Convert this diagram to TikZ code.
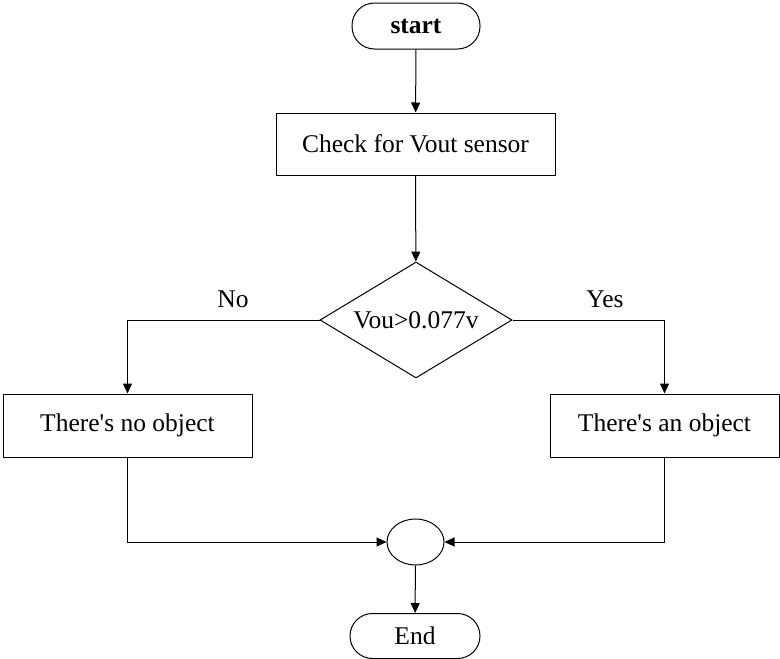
\documentclass[tikz,border=0pt]{standalone}
\usepackage{fontspec}
\setmainfont{Liberation Serif}
\usetikzlibrary{shapes.geometric,arrows.meta}
\begin{document}
\begin{tikzpicture}[x=1pt,y=-1pt,
  every node/.style={font=\fontsize{25.5}{30}\selectfont},
  term/.style={draw,rounded corners=22.5pt,inner sep=0pt},
  procbox/.style={draw,rectangle,inner sep=0pt},
  decide/.style={draw,diamond,inner sep=0pt,aspect=1.655},
  joinpt/.style={draw,ellipse,inner sep=0pt},
  lbl/.style={inner sep=0pt},
  conn/.style={line width=1pt,-{Triangle[length=10pt,width=9pt]}},
  line width=1pt]
\useasboundingbox (0,0) rectangle (780,659);
\node[term,minimum width=128pt,minimum height=46pt] (start) at (416,26) {\textbf{start}};
\node[procbox,minimum width=279pt,minimum height=62pt] (check) at (415.5,144) {Check for Vout sensor};
\node[decide,minimum width=192pt,minimum height=116pt] (dia) at (416,320) {Vou>0.077v};
\node[procbox,minimum width=249pt,minimum height=63pt] (no) at (127.5,425.5) {There\textquotesingle s no object};
\node[procbox,minimum width=229pt,minimum height=63pt] (yes) at (664.5,425.5) {There\textquotesingle s an object};
\node[joinpt,minimum width=57pt,minimum height=46pt] (join) at (415.5,542) {};
\node[term,minimum width=130pt,minimum height=45pt] (end) at (415,636) {End};
\node[lbl] (nolbl) at (233,299) {No};
\node[lbl] (yeslbl) at (605,299) {Yes};
\draw[conn] (start) -- (check);
\draw[conn] (check) -- (dia);
\draw[conn] (dia.west) -| (no.north);
\draw[conn] (dia.east) -| (yes.north);
\draw[conn] (no.south) |- (join.west);
\draw[conn] (yes.south) |- (join.east);
\draw[conn] (join) -- (end);
\end{tikzpicture}
\end{document}
